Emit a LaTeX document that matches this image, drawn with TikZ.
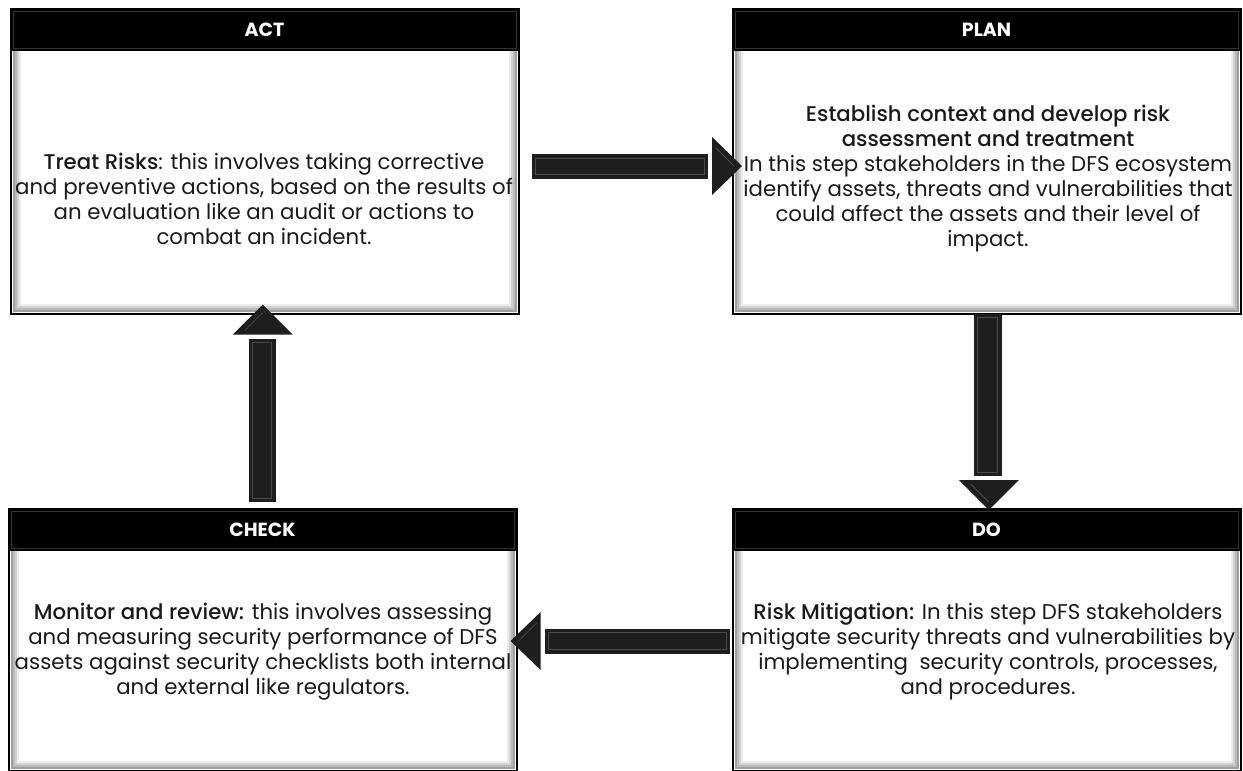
\documentclass[tikz,border=0pt]{standalone}
\usepackage{fontspec}
\setmainfont{Poppins}[BoldFont={Poppins Medium}]
\newfontfamily\headfont{Poppins}
\usetikzlibrary{calc}
\definecolor{ink}{HTML}{1A1A1A}
\definecolor{barfill}{HTML}{1E1E1E}
\definecolor{barline}{HTML}{4A4A4A}

\tikzset{
  panel/.style={draw=black, line width=1.6pt, fill=white, inner sep=0pt,
    anchor=north west, minimum width=508pt},
  header/.style={fill=black, draw=black, line width=1pt, inner sep=0pt,
    anchor=north west, minimum width=508pt, minimum height=42pt,
    text=white, font=\headfont\bfseries\fontsize{19}{22}\selectfont},
  body/.style={align=center, text=ink, inner sep=0pt,
    font=\fontsize{21.3}{25}\selectfont},
}

% bevelled inner frame of a panel
\newcommand\bevel[1]{%
  \draw[gray!75, line width=2pt] ($(#1.north west)+(4,4)$) rectangle ($(#1.south east)+(-4,-4)$);
  \draw[gray!55, line width=2pt] ($(#1.north west)+(6,6)$) rectangle ($(#1.south east)+(-6,-6)$);
  \draw[gray!35, line width=2pt] ($(#1.north west)+(8,8)$) rectangle ($(#1.south east)+(-8,-8)$);
  \draw[gray!15, line width=2pt] ($(#1.north west)+(10,10)$) rectangle ($(#1.south east)+(-10,-10)$);
}
% subtle bevel inside a header bar
\newcommand\hbevel[1]{%
  \draw[black!80!white, line width=1pt] ($(#1.north west)+(3,3)$) rectangle ($(#1.south east)+(-3,-3)$);
}
% horizontal block arrow: tail, tip, sign (+1 right, -1 left)
\newcommand\harrow[3]{%
  \fill[barfill] ($(#1)+(0,-12.5)$) rectangle ($(#2)+({-34*(#3)},12.5)$);
  \draw[barline, line width=0.8pt] ($(#1)+({4*(#3)},-8.5)$) rectangle ($(#2)+({-38*(#3)},8.5)$);
  \fill[barfill] ($(#2)+({-30*(#3)},-29)$) -- (#2) -- ($(#2)+({-30*(#3)},29)$) -- cycle;
  \draw[barline, line width=0.8pt] ($(#2)+({-26*(#3)},-18)$) -- ($(#2)+({-8*(#3)},0)$);
}
% vertical block arrow: tail, tip, sign (+1 down, -1 up)
\newcommand\varrow[3]{%
  \fill[barfill] ($(#1)+(-13,0)$) rectangle ($(#2)+(13,{-34*(#3)})$);
  \draw[barline, line width=0.8pt] ($(#1)+(-9,{4*(#3)})$) rectangle ($(#2)+(9,{-38*(#3)})$);
  \fill[barfill] ($(#2)+(-30,{-30*(#3)})$) -- (#2) -- ($(#2)+(30,{-30*(#3)})$) -- cycle;
  \draw[barline, line width=0.8pt] ($(#2)+(-18,{-26*(#3)})$) -- ($(#2)+(0,{-8*(#3)})$);
}

\begin{document}
\begin{tikzpicture}[x=1pt, y=-1pt]
  \useasboundingbox (0,0) rectangle (1243,771);

  % panels
  \node[panel, minimum height=305pt] (act)   at (10,8)   {};
  \node[panel, minimum height=305pt] (plan)  at (732,8)  {};
  \node[panel, minimum height=262pt] (check) at (8,508)  {};
  \node[panel, minimum height=262pt] (do)    at (732,508){};
  \bevel{act} \bevel{plan} \bevel{check} \bevel{do}

  % header bars
  \node[header] (acth)   at (act.north west)   {ACT};
  \node[header] (planh)  at (plan.north west)  {PLAN};
  \node[header] (checkh) at (check.north west) {CHECK};
  \node[header] (doh)    at (do.north west)    {DO};
  \hbevel{acth} \hbevel{planh} \hbevel{checkh} \hbevel{doh}

  % panel texts
  \node[body] (acttext) at (264,198.5) {\textbf{Treat Risks}: this involves taking corrective\\
    and preventive actions, based on the results of\\
    an evaluation like an audit or actions to\\
    combat an incident.};
  \node[body] (plantext) at (988,178.5) {\textbf{Establish context and develop risk}\\
    \textbf{assessment and treatment}\\
    In this step stakeholders in the DFS ecosystem\\
    identify assets, threats and vulnerabilities that\\
    could affect the assets and their level of\\
    impact.};
  \node[body] (checktext) at (263,651.5) {\textbf{Monitor and review:} this involves assessing\\
    and measuring security performance of DFS\\
    assets against security checklists both internal\\
    and external like regulators.};
  \node[body] (dotext) at (988,651.5) {\textbf{Risk Mitigation:} In this step DFS stakeholders\\
    mitigate security threats and vulnerabilities by\\
    implementing\ \ security controls, processes,\\
    and procedures.};

  % arrow end points
  \coordinate (ap1) at ($(act.north east)+(12,158.5)$);
  \coordinate (ap2) at ($(plan.north west)+(10,158)$);
  \coordinate (pd1) at ($(plan.south)+(0,-1)$);
  \coordinate (pd2) at ($(do.north)+(2,2)$);
  \coordinate (dc1) at ($(do.north west)+(-2,133)$);
  \coordinate (dc2) at ($(check.north east)+(-7,133)$);
  \coordinate (ca1) at ($(check.north)+(-1,-6)$);
  \coordinate (ca2) at ($(act.south)+(-2,-10)$);

  \harrow{ap1}{ap2}{1}
  \varrow{pd1}{pd2}{1}
  \harrow{dc1}{dc2}{-1}
  \varrow{ca1}{ca2}{-1}
\end{tikzpicture}
\end{document}
